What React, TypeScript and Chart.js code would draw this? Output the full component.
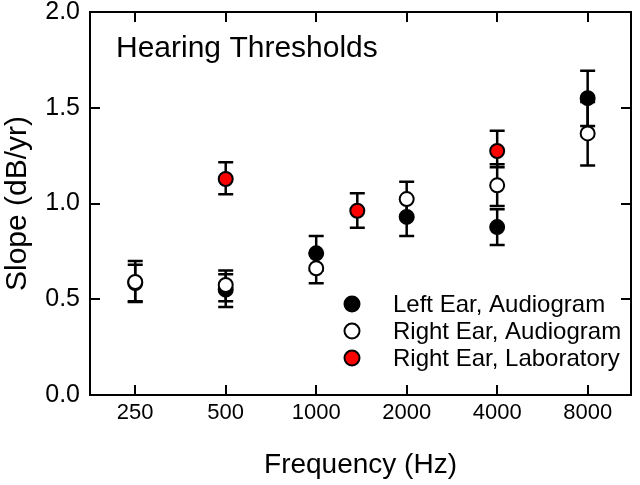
import React, { useEffect, useRef } from "react";
import { Chart, registerables } from "chart.js";

Chart.register(...registerables);

// ---- Data ----
const frequencyTicks = [250, 500, 1000, 2000, 4000, 8000];
const slopeTicks = [0, 0.5, 1.0, 1.5, 2.0];

const leftFreq = [250, 500, 1000, 2000, 4000, 8000];
const leftSlope = [0.585, 0.55, 0.74, 0.93, 0.877, 1.55];
const leftLow = [0.485, 0.46, 0.65, 0.83, 0.783, 1.405];
const leftHigh = [0.68, 0.63, 0.83, 1.03, 0.97, 1.693];

const rightFreq = [250, 500, 1000, 2000, 4000, 8000];
const rightSlope = [0.59, 0.575, 0.662, 1.023, 1.095, 1.366];
const rightLow = [0.49, 0.49, 0.583, 0.93, 0.987, 1.198];
const rightHigh = [0.7, 0.65, 0.74, 1.114, 1.205, 1.53];

const labFreq = [500, 1370, 4000];
const labSlope = [1.128, 0.962, 1.274];
const labLow = [1.048, 0.874, 1.189];
const labHigh = [1.215, 1.053, 1.38];

const seriesLabels = ["Left Ear, Audiogram", "Right Ear, Audiogram", "Right Ear, Laboratory"];
const chartTitle = "Hearing Thresholds";

const FONT = "'Liberation Sans', Arial, Helvetica, sans-serif";

const toPoints = (xs: number[], ys: number[]) => xs.map((x, i) => ({ x, y: ys[i] }));

const errorBarPlugin = {
  id: "errorBars",
  beforeDatasetDraw(chart: any, args: any) {
    const ds = chart.data.datasets[args.index];
    const meta = args.meta;
    const yScale = chart.scales.y;
    const ctx = chart.ctx;
    ctx.save();
    ctx.strokeStyle = "#000";
    ctx.lineWidth = 2.5;
    const cap = 7.5;
    meta.data.forEach((el: any, i: number) => {
      const x = el.x;
      const yl = yScale.getPixelForValue(ds.errLow[i]);
      const yh = yScale.getPixelForValue(ds.errHigh[i]);
      ctx.beginPath();
      ctx.moveTo(x, yl);
      ctx.lineTo(x, yh);
      ctx.moveTo(x - cap, yl);
      ctx.lineTo(x + cap, yl);
      ctx.moveTo(x - cap, yh);
      ctx.lineTo(x + cap, yh);
      ctx.stroke();
    });
    ctx.restore();
  },
};

const framePlugin = {
  id: "frame",
  beforeDatasetsDraw(chart: any) {
    const { ctx, chartArea: a, scales } = chart;
    ctx.save();
    ctx.strokeStyle = "#000";
    ctx.lineWidth = 2;
    ctx.strokeRect(a.left, a.top, a.right - a.left, a.bottom - a.top);
    const len = 10;
    ctx.beginPath();
    scales.x.ticks.forEach((t: any) => {
      const px = Math.round(scales.x.getPixelForValue(t.value));
      ctx.moveTo(px, a.bottom);
      ctx.lineTo(px, a.bottom - len);
      ctx.moveTo(px, a.top);
      ctx.lineTo(px, a.top + len);
    });
    scales.y.ticks.forEach((t: any) => {
      const py = Math.round(scales.y.getPixelForValue(t.value));
      ctx.moveTo(a.left, py);
      ctx.lineTo(a.left + len, py);
      ctx.moveTo(a.right, py);
      ctx.lineTo(a.right - len, py);
    });
    ctx.stroke();
    // title inside plot
    ctx.fillStyle = "#000";
    ctx.font = `30px ${FONT}`;
    ctx.textBaseline = "alphabetic";
    ctx.textAlign = "left";
    ctx.fillText(chart.options.plugins.innerTitle.text, a.left + 26, a.top + 45);
    ctx.restore();
  },
};

const legendPlugin = {
  id: "innerLegend",
  afterDraw(chart: any) {
    const { ctx, chartArea: a } = chart;
    ctx.save();
    ctx.font = `24px ${FONT}`;
    ctx.textBaseline = "middle";
    ctx.textAlign = "left";
    const x0 = a.left + 262;
    const rowY = [a.top + 292, a.top + 319, a.top + 346];
    chart.data.datasets.forEach((ds: any, i: number) => {
      const y = rowY[i];
      ctx.beginPath();
      ctx.arc(x0, y, 7.5, 0, Math.PI * 2);
      ctx.fillStyle = ds.backgroundColor;
      ctx.fill();
      ctx.lineWidth = 2;
      ctx.strokeStyle = "#000";
      ctx.stroke();
      ctx.fillStyle = "#000";
      ctx.fillText(ds.label, x0 + 41, y + 1);
    });
    ctx.restore();
  },
};

export default function App() {
  const ref = useRef<HTMLCanvasElement>(null);

  useEffect(() => {
    if (!ref.current) return;
    const common = {
      pointRadius: 7,
      pointHoverRadius: 7,
      pointBorderWidth: 2,
      borderColor: "#000",
      showLine: false,
    };
    const chart = new Chart(ref.current, {
      type: "scatter",
      data: {
        datasets: [
          {
            ...common,
            label: seriesLabels[0],
            data: toPoints(leftFreq, leftSlope),
            backgroundColor: "#000000",
            errLow: leftLow,
            errHigh: leftHigh,
            order: 3,
          } as any,
          {
            ...common,
            label: seriesLabels[1],
            data: toPoints(rightFreq, rightSlope),
            backgroundColor: "#ffffff",
            errLow: rightLow,
            errHigh: rightHigh,
            order: 2,
          } as any,
          {
            ...common,
            label: seriesLabels[2],
            data: toPoints(labFreq, labSlope),
            backgroundColor: "#ff0000",
            errLow: labLow,
            errHigh: labHigh,
            order: 1,
          } as any,
        ],
      },
      options: {
        responsive: false,
        maintainAspectRatio: false,
        devicePixelRatio: 1,
        animation: false,
        events: [],
        layout: { padding: { top: 12, right: 6, left: 0, bottom: 0 } },
        plugins: {
          legend: { display: false },
          tooltip: { enabled: false },
          innerTitle: { text: chartTitle },
        } as any,
        scales: {
          x: {
            type: "logarithmic",
            min: 176.8,
            max: 11150,
            grid: { display: false, drawTicks: false },
            border: { display: false },
            afterBuildTicks: (scale: any) => {
              scale.ticks = frequencyTicks.map((v) => ({ value: v }));
            },
            afterFit: (scale: any) => {
              scale.height = 90;
              scale.paddingLeft = 0;
              scale.paddingRight = 0;
            },
            ticks: {
              autoSkip: false,
              maxRotation: 0,
              padding: 5,
              color: "#000",
              font: { family: FONT, size: 22 },
              callback: (v: any) => String(v),
            },
            title: {
              display: true,
              text: "Frequency (Hz)",
              color: "#000",
              font: { family: FONT, size: 28 },
              padding: { top: 0, bottom: 3 },
            },
          },
          y: {
            type: "linear",
            min: 0,
            max: 2,
            grid: { display: false, drawTicks: false },
            border: { display: false },
            afterBuildTicks: (scale: any) => {
              scale.ticks = slopeTicks.map((v) => ({ value: v }));
            },
            afterFit: (scale: any) => {
              scale.width = 90;
              scale.paddingTop = 0;
              scale.paddingBottom = 0;
            },
            ticks: {
              padding: 10,
              color: "#000",
              font: { family: FONT, size: 25, lineHeight: 1 },
              callback: (v: any) => Number(v).toFixed(1),
            },
            title: {
              display: true,
              text: "Slope (dB/yr)",
              color: "#000",
              font: { family: FONT, size: 30 },
              padding: { top: 0, bottom: 0 },
            },
          },
        },
      } as any,
      plugins: [errorBarPlugin, framePlugin, legendPlugin],
    });
    return () => chart.destroy();
  }, []);

  return (
    <div
      style={{
        position: "absolute",
        left: 0,
        top: 0,
        width: 640,
        height: 485,
        background: "#fff",
      }}
    >
      <canvas ref={ref} width={640} height={485} style={{ display: "block", width: 640, height: 485 }} />
    </div>
  );
}
